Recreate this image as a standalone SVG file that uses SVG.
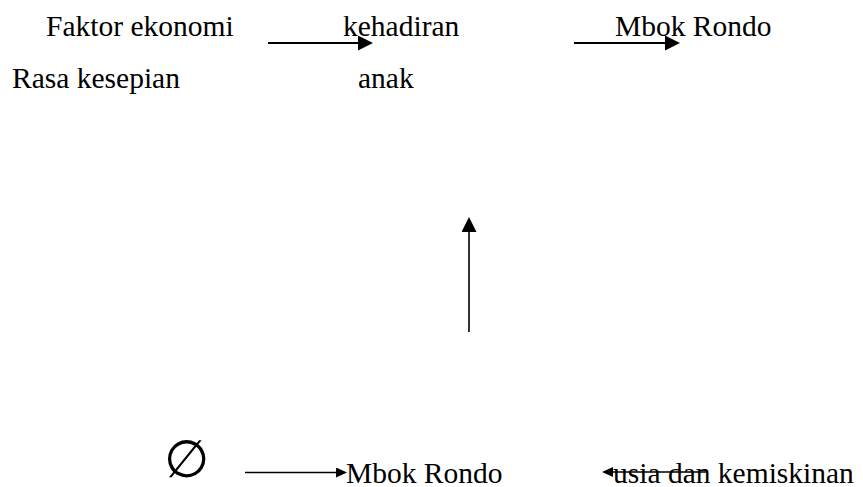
<svg xmlns="http://www.w3.org/2000/svg" width="863" height="487" viewBox="0 0 863 487">
<style>
.t{font-family:"Liberation Serif","Times New Roman","DejaVu Serif",serif;font-size:29.5px;fill:#000}
.sym{font-family:"DejaVu Sans",sans-serif;font-size:52px;fill:#000}
.c{stroke:#000;fill:none}
</style>
<defs>
<marker id="big" viewBox="0 0 15 15" refX="13" refY="7.5" markerWidth="15" markerHeight="15" markerUnits="userSpaceOnUse" orient="auto"><path d="M0,0 L15,7.5 L0,15 z" fill="#000"/></marker>
<marker id="small" viewBox="0 0 11 10" refX="9" refY="5" markerWidth="11" markerHeight="10" markerUnits="userSpaceOnUse" orient="auto"><path d="M0,0 L11,5 L0,10 z" fill="#000"/></marker>
</defs>
<rect width="863" height="487" fill="#fff"/>
<g id="faktor-ekonomi"><text class="t" font-family="Liberation Serif, serif" x="46" y="35.5">Faktor ekonomi</text></g>
<g id="rasa-kesepian"><text class="t" font-family="Liberation Serif, serif" x="12" y="88">Rasa kesepian</text></g>
<g id="kehadiran-anak"><text class="t" font-family="Liberation Serif, serif" x="343" y="35.5">kehadiran</text><text class="t" font-family="Liberation Serif, serif" x="358" y="88">anak</text></g>
<g id="mbok-rondo-top"><text class="t" font-family="Liberation Serif, serif" x="615" y="35.5">Mbok Rondo</text></g>
<g id="empty-set"><text class="sym" x="164" y="476.5">∅</text></g>
<g id="mbok-rondo-bottom"><text class="t" font-family="Liberation Serif, serif" x="346" y="482.5">Mbok Rondo</text></g>
<g id="usia-kemiskinan"><text class="t" font-family="Liberation Serif, serif" x="613" y="482.5">usia dan kemiskinan</text></g>
<g id="connectors">
<line class="c" stroke-width="2" x1="268" y1="43" x2="371" y2="43" marker-end="url(#big)"/>
<line class="c" stroke-width="2" x1="574" y1="43" x2="678" y2="43" marker-end="url(#big)"/>
<line class="c" stroke-width="1.6" x1="469" y1="332" x2="469" y2="219" marker-end="url(#big)"/>
<line class="c" stroke-width="1.5" x1="245" y1="472.5" x2="345" y2="472.5" marker-end="url(#small)"/>
<line class="c" stroke-width="1.5" x1="707" y1="472" x2="604" y2="472" marker-end="url(#small)"/>
</g>
</svg>
